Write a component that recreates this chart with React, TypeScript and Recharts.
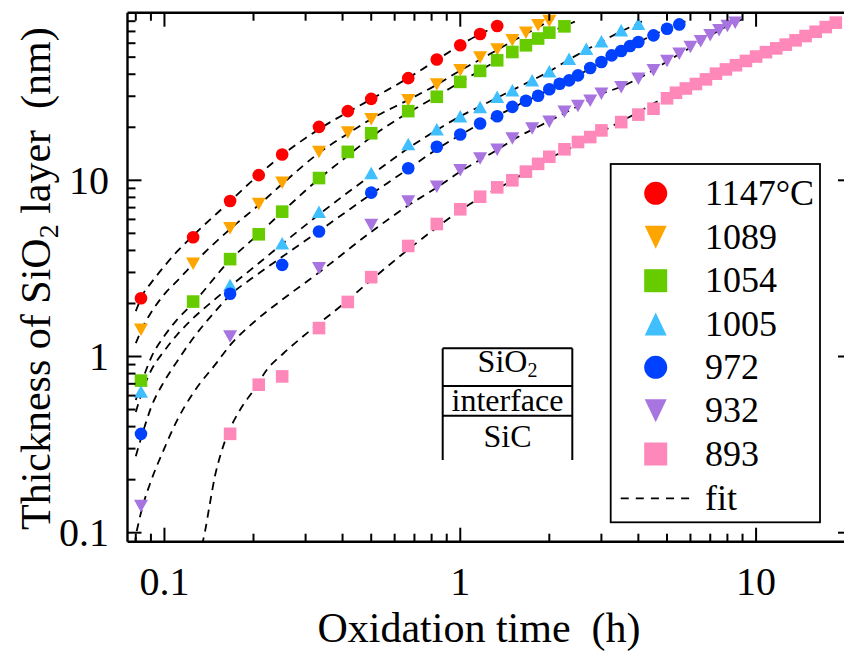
import React from 'react';
import { ComposedChart, Scatter, Line, XAxis, YAxis } from 'recharts';

// Oxidation time (h) and SiO2 thickness (nm)
const t1147 = [0.0833, 0.125, 0.1667, 0.2083, 0.25, 0.333, 0.4167, 0.5, 0.667, 0.833, 1.0, 1.167, 1.333];
const d1147 = [2.14, 4.75, 7.63, 10.7, 14.0, 20.1, 24.7, 29.0, 38.0, 48.5, 58.4, 67.7, 75.2];

const t1089 = [0.0833, 0.125, 0.1667, 0.2083, 0.25, 0.333, 0.4167, 0.5, 0.667, 0.833, 1.0, 1.167, 1.333, 1.5, 1.667, 1.833, 2.0];
const d1089 = [1.42, 3.36, 5.35, 7.34, 9.69, 14.5, 18.7, 22.2, 28.5, 35.0, 42.2, 49.8, 55.2, 62.4, 68.9, 75.9, 80.2];

const t1054 = [0.0833, 0.125, 0.1667, 0.2083, 0.25, 0.333, 0.4167, 0.5, 0.667, 0.833, 1.0, 1.167, 1.333, 1.5, 1.667, 1.833, 2.0, 2.25];
const d1054 = [0.73, 2.05, 3.57, 4.94, 6.64, 10.3, 14.5, 18.5, 24.7, 29.8, 36.2, 41.8, 48.0, 53.5, 58.4, 63.8, 68.9, 74.8];

const t1005 = [0.0833, 0.1667, 0.25, 0.333, 0.5, 0.667, 0.833, 1.0, 1.167, 1.333, 1.5, 1.75, 2.0, 2.333, 2.667, 3.0, 3.5, 4.0];
const d1005 = [0.634, 2.55, 4.4, 6.64, 11.0, 16.1, 19.5, 23.1, 26.1, 29.8, 32.5, 37.0, 41.6, 49.0, 55.8, 61.5, 71.0, 77.4];

const t972 = [0.0833, 0.1667, 0.25, 0.333, 0.5, 0.667, 0.833, 1.0, 1.167, 1.333, 1.5, 1.667, 1.833, 2.0, 2.167, 2.333, 2.5, 2.75, 3.0, 3.25, 3.5, 3.75, 4.0, 4.5, 5.0, 5.5];
const d972 = [0.364, 2.27, 3.31, 5.12, 8.51, 11.7, 15.5, 18.2, 21.0, 23.1, 26.1, 28.3, 30.2, 32.9, 35.3, 36.9, 39.4, 43.4, 46.9, 51.2, 54.2, 57.8, 60.9, 66.5, 72.5, 76.7];

const t932 = [0.0833, 0.1667, 0.333, 0.5, 0.667, 0.833, 1.0, 1.167, 1.333, 1.5, 1.75, 2.0, 2.25, 2.5, 2.75, 3.0, 3.5, 4.0, 4.5, 5.0, 5.5, 6.0, 6.5, 7.0, 7.5, 8.0, 8.5];
const d932 = [0.1416, 1.3, 3.17, 5.58, 7.57, 9.2, 11.4, 13.3, 14.9, 17.3, 19.7, 21.5, 24.5, 26.4, 28.3, 31.0, 33.8, 37.7, 42.1, 47.5, 52.3, 57.1, 61.5, 66.5, 71.0, 75.1, 78.4];

const t893 = [0.1667, 0.2083, 0.25, 0.333, 0.4167, 0.5, 0.667, 0.833, 1.0, 1.167, 1.333, 1.5, 1.667, 1.833, 2.0, 2.25, 2.5, 2.75, 3.0, 3.5, 4.0, 4.5, 5.0, 5.36, 5.79, 6.26, 6.77, 7.32, 7.91, 8.55, 9.24, 10.0, 10.8, 11.7, 12.6, 13.6, 14.7, 15.9, 17.2, 18.6];
const d893 = [0.364, 0.692, 0.771, 1.45, 2.04, 2.82, 4.24, 5.65, 6.85, 8.07, 9.12, 10.0, 11.2, 12.4, 13.6, 15.0, 16.5, 17.6, 19.2, 21.4, 23.6, 25.5, 29.2, 31.4, 33.2, 35.2, 37.4, 40.3, 42.6, 45.0, 47.6, 50.4, 53.4, 56.1, 58.9, 62.3, 65.9, 69.7, 74.1, 78.5];

// dashed fit curves, traced along the dashes
const fitT1147 = [0.08, 0.085, 0.09, 0.1, 0.11, 0.125, 0.1667, 0.2, 0.25, 0.333, 0.5, 0.667, 0.833, 1.0, 1.167, 1.333, 1.4];
const fitD1147 = [1.81, 2.29, 2.61, 3.26, 3.92, 4.86, 7.6, 10.1, 13.9, 19.5, 28.9, 38.1, 48.2, 58.6, 67.6, 75.1, 78.0];

const fitT1089 = [0.08, 0.085, 0.09, 0.1, 0.11, 0.125, 0.1667, 0.2083, 0.25, 0.333, 0.4167, 0.5, 0.667, 0.833, 1.0, 1.167, 1.333, 1.5, 1.667, 1.833, 2.0, 2.06];
const fitD1089 = [1.19, 1.5, 1.77, 2.26, 2.67, 3.35, 5.29, 7.24, 9.53, 14.3, 18.4, 22.3, 28.6, 34.9, 42.0, 48.5, 55.0, 61.5, 67.8, 74.0, 80.0, 82.2];

const fitT1054 = [0.08, 0.085, 0.09, 0.1, 0.11, 0.125, 0.1667, 0.2083, 0.25, 0.333, 0.4167, 0.5, 0.667, 0.833, 1.0, 1.167, 1.333, 1.5, 1.667, 1.833, 2.0, 2.25, 2.44];
const fitD1054 = [0.566, 0.765, 0.98, 1.31, 1.61, 2.01, 3.53, 4.96, 6.61, 10.2, 13.8, 17.6, 24.2, 30.0, 36.1, 42.0, 47.9, 53.5, 58.6, 63.8, 69.0, 75.1, 79.6];

const fitT1005 = [0.08, 0.085, 0.09, 0.1, 0.11, 0.125, 0.15, 0.1667, 0.2, 0.25, 0.333, 0.5, 0.667, 0.833, 1.0, 1.167, 1.333, 1.5, 1.75, 2.0, 2.333, 2.667, 3.0, 3.5, 4.0, 4.21];
const fitD1005 = [0.484, 0.663, 0.83, 1.08, 1.32, 1.65, 2.15, 2.5, 3.2, 4.35, 6.4, 10.7, 15.2, 19.3, 23.1, 26.3, 29.4, 32.5, 37.0, 41.5, 48.5, 55.0, 61.3, 70.0, 78.0, 81.5];

const fitT972 = [0.08, 0.085, 0.09, 0.1, 0.11, 0.125, 0.15, 0.1667, 0.2, 0.25, 0.333, 0.5, 0.667, 0.833, 1.0, 1.167, 1.333, 1.5, 1.667, 1.833, 2.0, 2.5, 3.0, 3.5, 4.0, 4.5, 5.0, 5.5, 5.8];
const fitD972 = [0.272, 0.383, 0.511, 0.726, 0.931, 1.27, 1.84, 2.23, 2.82, 3.68, 5.15, 8.35, 11.6, 15.0, 18.1, 20.9, 23.3, 25.7, 28.2, 30.2, 32.8, 39.4, 46.9, 54.2, 61.0, 66.8, 72.7, 77.1, 80.2];

const fitT932 = [0.0795, 0.08, 0.0815, 0.085, 0.09, 0.1, 0.11, 0.125, 0.15, 0.1667, 0.2, 0.25, 0.333, 0.5, 0.667, 0.833, 1.0, 1.333, 1.5, 2.0, 2.5, 3.0, 3.5, 4.0, 4.5, 5.0, 5.5, 6.0, 7.0, 8.0, 8.96];
const fitD932 = [0.085, 0.0945, 0.111, 0.147, 0.196, 0.302, 0.43, 0.62, 0.92, 1.16, 1.56, 2.1, 3.0, 5.1, 7.2, 9.1, 11.2, 14.9, 16.9, 21.7, 26.4, 30.9, 34.0, 37.8, 42.3, 47.2, 52.1, 56.7, 66.4, 75.1, 81.8];

const fitT893 = [0.134, 0.137, 0.1425, 0.148, 0.154, 0.1623, 0.18, 0.2023, 0.2216, 0.2522, 0.3026, 0.392, 0.508, 0.667, 0.833, 1.0, 1.5, 2.0, 2.605, 3.08, 3.845, 4.857, 5.98, 7.36, 9.05, 11.14, 13.71, 16.44, 18.96];
const fitD893 = [0.085, 0.101, 0.147, 0.208, 0.27, 0.351, 0.497, 0.66, 0.838, 1.04, 1.354, 1.917, 2.78, 4.05, 5.4, 6.75, 10.0, 13.3, 16.56, 19.3, 23.5, 29.2, 34.0, 40.5, 47.1, 54.9, 62.5, 71.3, 79.4];

const MAJORS = [0.1, 1, 10];
const MAJOR_LABELS = ['0.1', '1', '10'];
const X_TICKS = [0.08, 0.09, 0.1, 0.2, 0.3, 0.4, 0.5, 0.6, 0.7, 0.8, 0.9, 1, 2, 3, 4, 5, 6, 7, 8, 9, 10];
const Y_TICKS = [0.1, 0.2, 0.3, 0.4, 0.5, 0.6, 0.7, 0.8, 0.9, 1, 2, 3, 4, 5, 6, 7, 8, 9, 10, 20, 30, 40, 50, 60, 70, 80];

const X_DOMAIN = [0.075, 21.1];
const Y_DOMAIN = [0.0889, 89.4];

const FONT = '"Liberation Serif", "Times New Roman", serif';

const zip = (t: number[], d: number[]) => t.map((x, i) => ({ x, y: d[i] }));

const SERIES = [
  { name: '1147°C', data: zip(t1147, d1147), fit: zip(fitT1147, fitD1147), color: '#ff0000', shape: 'circle' },
  { name: '1089', data: zip(t1089, d1089), fit: zip(fitT1089, fitD1089), color: '#ffa500', shape: 'down' },
  { name: '1054', data: zip(t1054, d1054), fit: zip(fitT1054, fitD1054), color: '#66cc00', shape: 'square' },
  { name: '1005', data: zip(t1005, d1005), fit: zip(fitT1005, fitD1005), color: '#40bfff', shape: 'up' },
  { name: '972', data: zip(t972, d972), fit: zip(fitT972, fitD972), color: '#0040ff', shape: 'circle' },
  { name: '932', data: zip(t932, d932), fit: zip(fitT932, fitD932), color: '#a875e0', shape: 'down' },
  { name: '893', data: zip(t893, d893), fit: zip(fitT893, fitD893), color: '#ff88bb', shape: 'square' },
];

// w/h: marker box size
function marker(shape: string, color: string, cx: number, cy: number, w: number, h: number) {
  if (shape === 'circle') return <circle cx={cx} cy={cy} r={w / 2} fill={color} />;
  if (shape === 'square') return <rect x={cx - w / 2} y={cy - h / 2} width={w} height={h} fill={color} />;
  const s = shape === 'down' ? 1 : -1;
  const pts = `${cx - w / 2},${cy - (s * h) / 2} ${cx + w / 2},${cy - (s * h) / 2} ${cx},${cy + (s * h) / 2}`;
  return <polygon points={pts} fill={color} />;
}

const plotMarker = (shape: string, color: string) => (p: any) => {
  if (p.cx == null || p.cy == null) return <g />;
  const w = shape === 'circle' || shape === 'square' ? 12.6 : 14;
  const h = shape === 'circle' || shape === 'square' ? 12.6 : 12.5;
  return marker(shape, color, p.cx, p.cy, w, h);
};

const tickLen = (v: number) => (MAJORS.includes(v) ? 14 : 8);
const labelOf = (v: number) => MAJOR_LABELS[MAJORS.indexOf(v)];

const BottomTick = (p: any) => {
  const v = p.payload.value;
  return (
    <g>
      <line x1={p.x} x2={p.x} y1={p.y} y2={p.y - tickLen(v)} stroke="#000" strokeWidth={2} />
      {MAJORS.includes(v) && (
        <text x={p.x} y={p.y + 53} textAnchor="middle" fontFamily={FONT} fontSize={40} fill="#000">
          {labelOf(v)}
        </text>
      )}
    </g>
  );
};

const TopTick = (p: any) => (
  <line x1={p.x} x2={p.x} y1={p.y} y2={p.y + tickLen(p.payload.value)} stroke="#000" strokeWidth={2} />
);

const LeftTick = (p: any) => {
  const v = p.payload.value;
  return (
    <g>
      <line x1={p.x} x2={p.x + tickLen(v)} y1={p.y} y2={p.y} stroke="#000" strokeWidth={2} />
      {MAJORS.includes(v) && (
        <text x={p.x - 18.5} y={p.y + 13.5} textAnchor="end" fontFamily={FONT} fontSize={40} fill="#000">
          {labelOf(v)}
        </text>
      )}
    </g>
  );
};

const RightTick = (p: any) => (
  <line x1={p.x} x2={p.x - tickLen(p.payload.value)} y1={p.y} y2={p.y} stroke="#000" strokeWidth={2} />
);

const AXIS_LINE = { stroke: '#000', strokeWidth: 2.4 };

const LEGEND_ROWS = [193.3, 237.3, 280.7, 324, 367.3, 410.7, 454];

function Overlay() {
  return (
    <svg width={844} height={658} style={{ position: 'absolute', left: 0, top: 0 }}>
      {/* axis titles */}
      <text x={479} y={642} textAnchor="middle" fontFamily={FONT} fontSize={42} style={{ whiteSpace: 'pre' }}>
        Oxidation time  (h)
      </text>
      <text transform="translate(50,530) rotate(-90)" fontFamily={FONT} fontSize={42} style={{ whiteSpace: 'pre' }}>
        Thickness of SiO
        <tspan fontSize={28} dy={8}>
          2
        </tspan>
        <tspan dy={-8}> layer  (nm)</tspan>
      </text>

      {/* layer sketch */}
      <g stroke="#000" strokeWidth={2} fill="none">
        <line x1={442.7} x2={572.3} y1={348.3} y2={348.3} />
        <line x1={442.7} x2={572.3} y1={386} y2={386} />
        <line x1={442.7} x2={572.3} y1={415.7} y2={415.7} />
        <line x1={442.7} x2={442.7} y1={348.3} y2={460} />
        <line x1={572.3} x2={572.3} y1={348.3} y2={460} />
      </g>
      <text x={507.5} y={372} textAnchor="middle" fontFamily={FONT} fontSize={32}>
        SiO
        <tspan fontSize={20} dy={5}>
          2
        </tspan>
      </text>
      <text x={507.5} y={410.5} textAnchor="middle" fontFamily={FONT} fontSize={32}>
        interface
      </text>
      <text x={507.5} y={446.7} textAnchor="middle" fontFamily={FONT} fontSize={32}>
        SiC
      </text>

      {/* legend */}
      <rect x={610.7} y={164} width={209.3} height={358.3} fill="#fff" stroke="#000" strokeWidth={1.8} />
      {SERIES.map((s, i) => (
        <g key={s.name}>
          {marker(s.shape, s.color, 655.7, LEGEND_ROWS[i], s.shape === 'circle' || s.shape === 'square' ? 23 : 22, 23)}
          <text x={705} y={LEGEND_ROWS[i] + 11.7} fontFamily={FONT} fontSize={36}>
            {s.name}
          </text>
        </g>
      ))}
      <line x1={620.7} x2={689.3} y1={498.3} y2={498.3} stroke="#000" strokeWidth={1.8} strokeDasharray="8 7.1" />
      <text x={705} y={510} fontFamily={FONT} fontSize={36}>
        fit
      </text>
    </svg>
  );
}

export default function App() {
  return (
    <div style={{ position: 'absolute', left: 0, top: 0, width: 844, height: 658, overflow: 'hidden', background: '#fff' }}>
      <ComposedChart width={860} height={658} margin={{ top: 11.7, right: 7, bottom: 115.3, left: 126.5 }}>
        <XAxis
          xAxisId="b"
          dataKey="x"
          type="number"
          scale="log"
          domain={X_DOMAIN}
          allowDataOverflow
          ticks={X_TICKS}
          interval={0}
          tickLine={false}
          tickSize={0}
          tickMargin={0}
          height={1}
          axisLine={AXIS_LINE}
          tick={BottomTick}
        />
        <XAxis
          xAxisId="t"
          orientation="top"
          dataKey="x"
          type="number"
          scale="log"
          domain={X_DOMAIN}
          allowDataOverflow
          ticks={X_TICKS}
          interval={0}
          tickLine={false}
          tickSize={0}
          tickMargin={0}
          height={1}
          axisLine={AXIS_LINE}
          tick={TopTick}
        />
        <YAxis
          yAxisId="l"
          dataKey="y"
          type="number"
          scale="log"
          domain={Y_DOMAIN}
          allowDataOverflow
          ticks={Y_TICKS}
          interval={0}
          tickLine={false}
          tickSize={0}
          tickMargin={0}
          width={1}
          axisLine={AXIS_LINE}
          tick={LeftTick}
        />
        <YAxis
          yAxisId="r"
          orientation="right"
          dataKey="y"
          type="number"
          scale="log"
          domain={Y_DOMAIN}
          allowDataOverflow
          ticks={Y_TICKS}
          interval={0}
          tickLine={false}
          tickSize={0}
          tickMargin={0}
          width={1}
          axisLine={AXIS_LINE}
          tick={RightTick}
        />
        {SERIES.map((s) => (
          <Scatter
            key={'pts' + s.name}
            xAxisId="b"
            yAxisId="l"
            data={s.data}
            fill={s.color}
            shape={plotMarker(s.shape, s.color)}
            isAnimationActive={false}
          />
        ))}
        {SERIES.map((s) => (
          <Line
            key={'fit' + s.name}
            xAxisId="b"
            yAxisId="l"
            data={s.fit}
            dataKey="y"
            type="monotone"
            stroke="#000"
            strokeWidth={1.8}
            strokeDasharray="8 6"
            dot={false}
            activeDot={false}
            isAnimationActive={false}
          />
        ))}
      </ComposedChart>
      <Overlay />
    </div>
  );
}
